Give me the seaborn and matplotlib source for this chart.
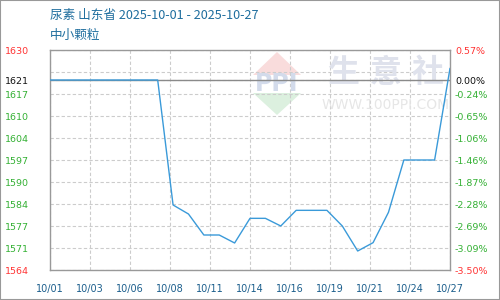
import numpy as np
import pandas as pd
import matplotlib
matplotlib.use("Agg")
import matplotlib.pyplot as plt
from matplotlib.patches import Polygon, Rectangle
import seaborn as sns

# ---- data ----
dates = ["10/%02d" % d for d in range(1, 28)]
prices = [1621, 1621, 1621, 1621, 1621, 1621, 1621, 1621,
          1583.5, 1580.8, 1574.5, 1574.5, 1572.1, 1579.5, 1579.5,
          1577.2, 1581.9, 1581.9, 1581.9, 1577.2, 1569.7, 1572.2,
          1581.3, 1597, 1597, 1597, 1624.5]
x_tick_labels = ["10/01", "10/03", "10/06", "10/08", "10/11", "10/14",
                 "10/16", "10/19", "10/21", "10/24", "10/27"]
y_min, y_max, base = 1564, 1630, 1621
left_labels = ["1564", "1571", "1577", "1584", "1590", "1597", "1604",
               "1610", "1617", "", "1630"]
right_labels = ["-3.50%", "-3.09%", "-2.69%", "-2.28%", "-1.87%", "-1.46%",
                "-1.06%", "-0.65%", "-0.24%", "", "0.57%"]
base_left, base_right = "1621", "0.00%"
title = "尿素 山东省 2025-10-01 - 2025-10-27"
subtitle = "中小颗粒"

df = pd.DataFrame({"idx": np.arange(len(dates)), "date": dates, "price": prices})

sns.set_style("white")
plt.rcParams["font.family"] = ["DejaVu Sans"]

W, H = 500, 300
fig = plt.figure(figsize=(5, 3), dpi=100)
L, R, T, B = 50, 450, 50, 270
ax = fig.add_axes([L / W, 1 - B / H, (R - L) / W, (B - T) / H])
ax.patch.set_facecolor("white")

sns.lineplot(data=df, x="idx", y="price", ax=ax, color="#3a9ad9",
             linewidth=1.0, zorder=3)

ax.set_xlim(0, len(dates) - 1)
ax.set_ylim(y_min, y_max)

xt = np.linspace(0, len(dates) - 1, len(x_tick_labels))
ax.set_xticks(xt)
ax.set_xticklabels(x_tick_labels, fontsize=7, color="#1b5e8c")
ax.tick_params(axis="x", length=0, pad=10)

grid_vals = list(np.linspace(y_min, y_max, len(left_labels)))
ticks = grid_vals + [base]
lab_l = left_labels + [base_left]
lab_r = right_labels + [base_right]
order = np.argsort(ticks)
ticks_s = [ticks[i] for i in order]
lab_l_s = [lab_l[i] for i in order]
lab_r_s = [lab_r[i] for i in order]

def colour_for(lbl, i):
    if lbl in (base_left, base_right):
        return "#111111"
    if ticks_s[i] in (y_min, y_max):
        return "#ff3333"
    return "#33b033"

ax.set_yticks(ticks_s)
ax.set_yticklabels(lab_l_s, fontsize=6.8)
for i, t in enumerate(ax.get_yticklabels()):
    t.set_color(colour_for(t.get_text(), i))
    t.set_horizontalalignment("left")
ax.tick_params(axis="y", length=0, pad=32.4)

ax.grid(True, color="#cccccc", linestyle=(0, (3, 2)), linewidth=0.8)
ax.set_xlabel("")
ax.set_ylabel("")
for s in ax.spines.values():
    s.set_visible(True)
    s.set_color("#999999")
    s.set_linewidth(1.0)
ax.axhline(base, color="#8a8a8a", linewidth=1.0, zorder=2)

ax2 = ax.twinx()
ax2.set_ylim(y_min, y_max)
ax2.set_yticks(ticks_s)
ax2.set_yticklabels(lab_r_s, fontsize=6.8)
for i, t in enumerate(ax2.get_yticklabels()):
    t.set_color(colour_for(t.get_text(), i))
ax2.tick_params(axis="y", length=0, pad=3.6)
for s in ax2.spines.values():
    s.set_visible(False)
ax2.grid(False)

# watermark (decoration, in axes-fraction coords)
def af(px, py):
    return ((px - L) / (R - L), (B - py) / (B - T))

ax.add_patch(Polygon([af(277, 52), af(301, 75), af(253, 75)], closed=True,
                     facecolor="#f9dcdc", edgecolor="none",
                     transform=ax.transAxes, zorder=0.5))
ax.add_patch(Polygon([af(253, 93), af(301, 93), af(277, 115)], closed=True,
                     facecolor="#dcf0df", edgecolor="none",
                     transform=ax.transAxes, zorder=0.5))
ax.text(*af(277, 84), "PPI", transform=ax.transAxes, ha="center", va="center",
        fontsize=17, fontweight="bold", color="#d3dbeb", zorder=0.6)
for ch, cx in zip("生意社", [343, 386, 428]):
    ax.text(*af(cx, 73), ch, transform=ax.transAxes, ha="center", va="center",
            fontsize=23, fontweight="bold", color="#dfe2ec", zorder=0.6,
            family=["Noto Sans CJK SC", "DejaVu Sans"])
ax.text(*af(386, 105), "WWW.100PPI.COM", transform=ax.transAxes, ha="center",
        va="center", fontsize=10, color="#e6e6e6", zorder=0.6)

fig.text(L / W, 1 - 15 / H, title, ha="left", va="center", fontsize=9.1,
         color="#1f6e9e", family=["Noto Sans CJK SC", "DejaVu Sans"])
fig.text(L / W, 1 - 35.5 / H, subtitle, ha="left", va="center", fontsize=9.1,
         color="#1f6e9e", family=["Noto Sans CJK SC", "DejaVu Sans"])

fig.patches.append(Rectangle((0, 0), 1, 1, transform=fig.transFigure,
                             fill=False, edgecolor="#999999", linewidth=1.5))

fig.savefig("out.png", dpi=100)
